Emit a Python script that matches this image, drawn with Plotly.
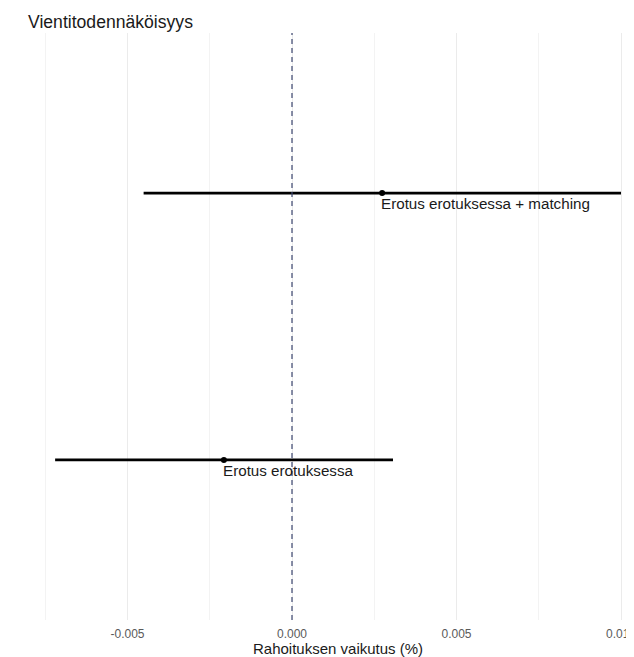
import plotly.graph_objects as go

# Data
methods = ["Erotus erotuksessa", "Erotus erotuksessa + matching"]
estimates = [-0.00207, 0.00274]
ci_lower = [-0.0072, -0.00451]
ci_upper = [0.00307, 0.0100]
x_ticks = [-0.005, 0.0, 0.005, 0.010]
x_tick_labels = ["-0.005", "0.000", "0.005", "0.010"]

title_text = "Vientitodennäköisyys"
x_title = "Rahoituksen vaikutus (%)"

font_family = "Liberation Sans, Arial, sans-serif"

# page body adds an 8px offset; figure sized so it fills the 634x657 window
W, H = 626, 649
L, R, T, B = 17, 0, 25, 37
PX_PER_UNIT = 32900
ZERO_PX = 292 - 8
PLOT_W = W - L - R
PLOT_H = H - T - B

fig = go.Figure()

fig.add_trace(go.Scatter(
    x=estimates,
    y=methods,
    mode="markers",
    marker=dict(color="black", size=6),
    error_x=dict(
        type="data",
        symmetric=False,
        array=[u - e for u, e in zip(ci_upper, estimates)],
        arrayminus=[e - l for e, l in zip(estimates, ci_lower)],
        color="black",
        thickness=2.6,
        width=0,
    ),
    showlegend=False,
    hoverinfo="skip",
))

for m, e in zip(methods, estimates):
    fig.add_annotation(
        x=e, y=m, text=m, showarrow=False,
        xanchor="left", yanchor="top", yshift=0, xshift=-3,
        font=dict(family=font_family, size=15.2, color="#1a1a1a"),
    )

# x-axis title, centred on the (partly cropped) panel as in the reference
fig.add_annotation(
    x=(330 - L) / PLOT_W, y=-28 / PLOT_H, xref="paper", yref="paper",
    text=x_title, showarrow=False, xanchor="center", yanchor="middle",
    font=dict(family=font_family, size=15, color="#1a1a1a"),
)

fig.add_vline(x=0, line=dict(color="#3c4670", width=1.2, dash="5px,4px"))

fig.update_layout(
    width=W, height=H,
    paper_bgcolor="white", plot_bgcolor="white",
    margin=dict(l=L, r=R, t=T, b=B),
    title=dict(text=title_text, x=0, xref="paper", xanchor="left",
               y=1 - 14 / H, yanchor="middle", yref="container",
               font=dict(family=font_family, size=17.6, color="#1a1a1a"), pad=dict(l=3)),
    font=dict(family=font_family),
)

fig.update_xaxes(
    range=[(L - ZERO_PX) / PX_PER_UNIT, (W - R - ZERO_PX) / PX_PER_UNIT],
    automargin=False,
    tickvals=x_ticks, ticktext=x_tick_labels,
    tickfont=dict(size=12, color="#5a5a5a"),
    ticklabeloverflow="allow",
    showgrid=True, gridcolor="#ebebeb", gridwidth=1,
    minor=dict(dtick=0.0025, tick0=0.0025, showgrid=True, gridcolor="#f3f3f3", gridwidth=0.6),
    zeroline=False, showline=False, ticks="",
    ticklabelstandoff=5,
)

fig.update_yaxes(
    type="category", categoryorder="array", categoryarray=methods,
    range=[-0.6, 1.6], automargin=False,
    showticklabels=False, showgrid=False, zeroline=False, showline=False, ticks="",
)

fig.write_html("out.html")
